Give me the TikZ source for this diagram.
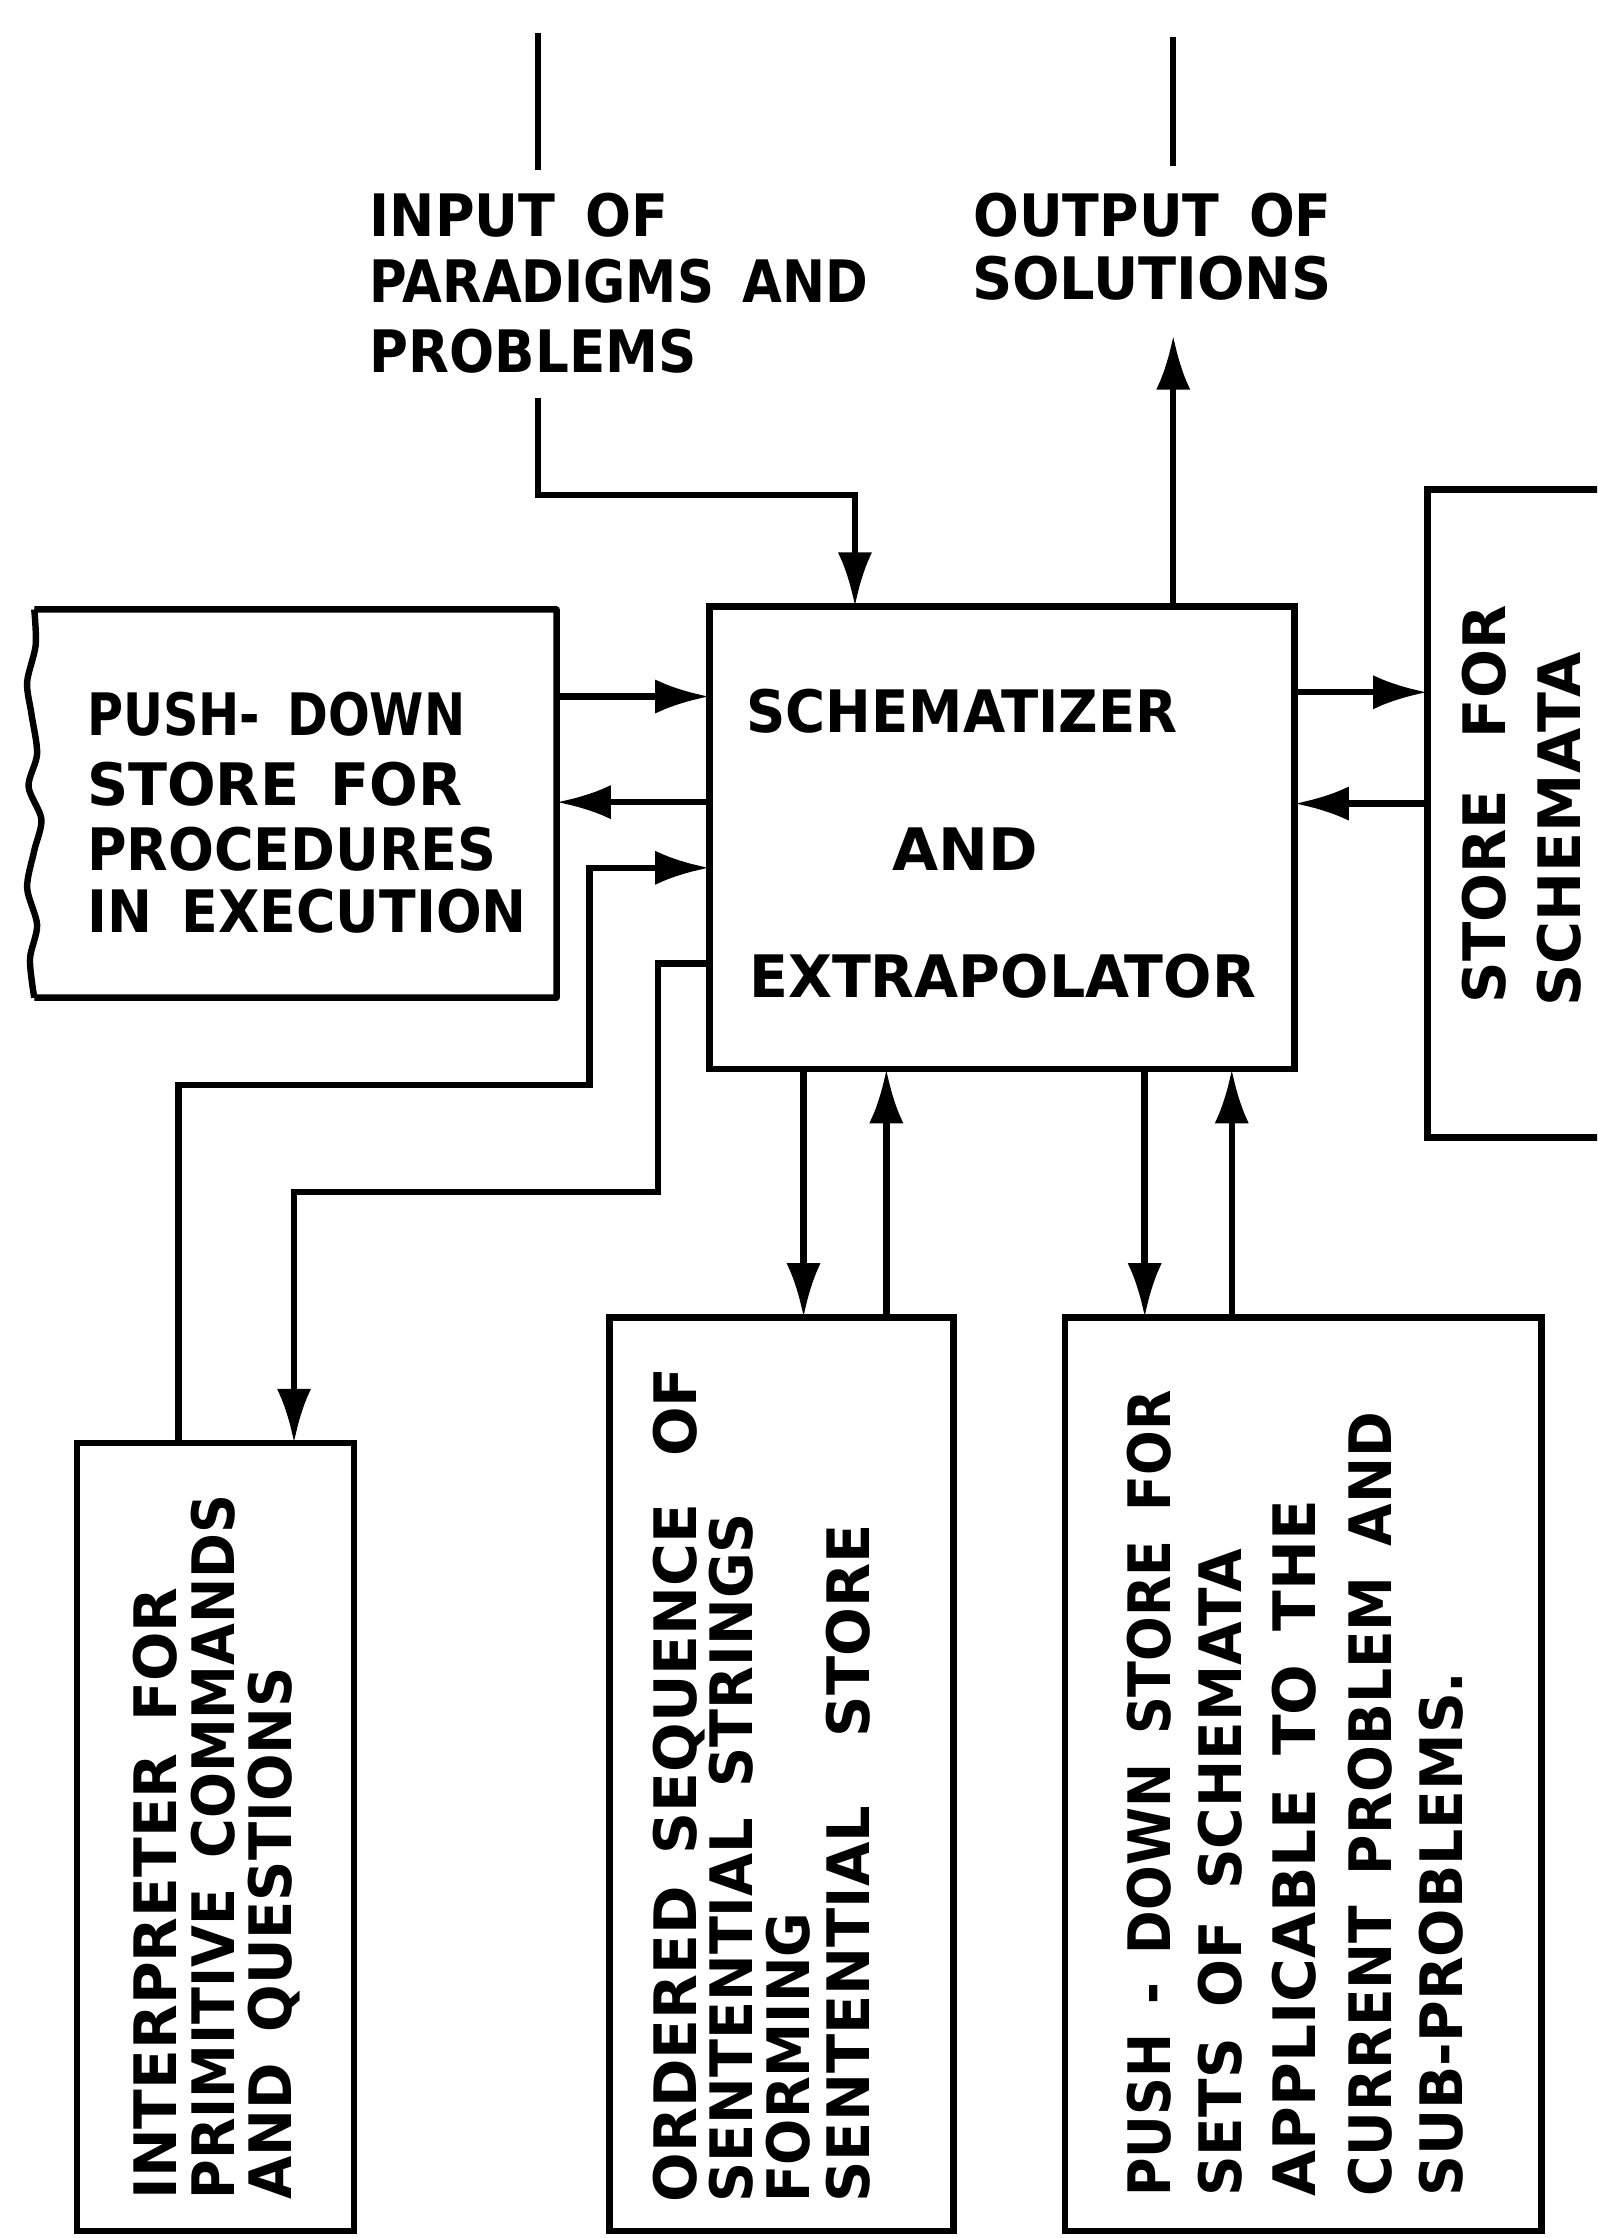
\documentclass[tikz,border=0pt]{standalone}
\usepackage{fontspec}
\setmainfont{DejaVu Sans}
\usetikzlibrary{arrows.meta}
\newlength\fwlen
\newcommand\fw[2]{\spaceskip=0.55em\relax\settowidth\fwlen{#2}\pgfmathsetmacro\fwf{#1/\fwlen}\scalebox{\fwf}[1]{#2}}
\begin{document}
\begin{tikzpicture}[x=1pt,y=-1pt,
  every node/.style={inner sep=0pt, outer sep=0pt},
  lbl/.style={font=\fontsize{41}{41}\selectfont\bfseries, anchor=base west},
  vlbl/.style={lbl, rotate=90},
  box/.style={draw, line width=4.5pt, anchor=north west},
  wire/.style={line width=4.5pt},
  arr/.style={wire, -{Latex[length=38pt,width=24pt]}},
]
\clip (0,0) rectangle (1119,1568);
\fill[white] (0,0) rectangle (1119,1568);

% boxes
\node[box, minimum width=410pt, minimum height=324pt] (main) at (497,425) {};
\node[anchor=north west, minimum width=366pt, minimum height=272pt] (pd) at (24,427) {};
\draw[line width=4.5pt, line join=round]
  (pd.north west) -- (pd.north east) -- (pd.south east) -- (pd.south west)
  plot[smooth] coordinates {(24,699) (21,672) (26,648) (19,622) (24,596) (29,574) (20,551) (26,528) (22,500) (19,478) (25,452) (24,427)};
\node[box, minimum width=140pt, minimum height=454pt] (ss) at (1000,343) {};
\node[box, minimum width=194pt, minimum height=552pt] (interp) at (54,1011) {};
\node[box, minimum width=241pt, minimum height=640pt] (ord) at (427,923) {};
\node[box, minimum width=334pt, minimum height=640pt] (sets) at (746,923) {};

% top labels
\node[lbl] (tin1) at (259,166) {\fw{209}{INPUT OF}};
\node[lbl] (tin2) at (259,212) {\fw{349}{PARADIGMS AND}};
\node[lbl] (tin3) at (259,261) {\fw{229}{PROBLEMS}};
\node[lbl] (tout1) at (682,166) {\fw{251}{OUTPUT OF}};
\node[lbl] (tout2) at (681,210) {\fw{252}{SOLUTIONS}};

% left box text
\node[lbl] (pd1) at (61,515) {\fw{265}{PUSH- DOWN}};
\node[lbl] (pd2) at (61,564) {\fw{263}{STORE FOR}};
\node[lbl] (pd3) at (61,610) {\fw{287}{PROCEDURES}};
\node[lbl] (pd4) at (61,653) {\fw{308}{IN EXECUTION}};

% main box text
\node[lbl] (m1) at (523,513) {\fw{302}{SCHEMATIZER}};
\node[lbl] (m2) at (625,610) {\fw{102}{AND}};
\node[lbl] (m3) at (525,699) {\fw{355}{EXTRAPOLATOR}};

% store for schemata text
\node[vlbl] (s1) at (1055,703) {\fw{279}{STORE\hspace{0.9em}FOR}};
\node[vlbl] (s2) at (1107,705) {\fw{248}{SCHEMATA}};

% interpreter text
\node[vlbl] (i1) at (124,1541) {\fw{429}{INTERPRETER FOR}};
\node[vlbl] (i2) at (164,1541) {\fw{494}{PRIMITIVE COMMANDS}};
\node[vlbl] (i3) at (204,1541) {\fw{373}{AND QUESTIONS}};

% ordered sequence text
\node[vlbl] (o1) at (488,1543) {\fw{585}{ORDERED SEQUENCE\hspace{0.8em}OF}};
\node[vlbl] (o2) at (527,1543) {\fw{483}{SENTENTIAL STRINGS}};
\node[vlbl] (o3) at (567,1543) {\fw{203}{FORMING}};
\node[vlbl] (o4) at (609,1543) {\fw{475}{SENTENTIAL\hspace{1.2em}STORE}};

% push-down sets text
\node[vlbl] (p1) at (820,1539) {\fw{565}{PUSH - DOWN STORE FOR}};
\node[vlbl] (p2) at (870,1539) {\fw{454}{SETS OF SCHEMATA}};
\node[vlbl] (p3) at (922,1539) {\fw{488}{APPLICABLE TO THE}};
\node[vlbl] (p4) at (975,1539) {\fw{550}{CURRENT PROBLEM AND}};
\node[vlbl] (p5) at (1025,1539) {\fw{368}{SUB-PROBLEMS.}};

% input / output
\coordinate (inTop) at (377,23);
\coordinate (inMid) at (377,119);
\coordinate (inLow) at (377,279);
\coordinate (inBend) at (599,347);
\draw[wire] (inTop) -- (inMid);
\draw[arr] (inLow) |- (inBend) -- (inBend |- main.north);
\coordinate (outTop) at (822,26);
\coordinate (outMid) at (822,116);
\coordinate (outTip) at (822,235);
\draw[wire] (outTop) -- (outMid);
\draw[arr] (outTip |- main.north) -- (outTip);

% left connections
\draw[arr] (pd.east |- 0,488) -- (main.west |- 0,488);
\draw[arr] (main.west |- 0,562) -- (pd.east |- 0,562);
\coordinate (l3a) at (413,760);
\draw[arr] (interp.north -| 125,0) |- (l3a) |- (main.west |- 0,608);
\coordinate (l4a) at (461,835);
\draw[arr] (main.west |- 0,675) -| (l4a) -| (interp.north -| 206,0);

% bottom connections
\draw[arr] (main.south -| 563,0) -- (ord.north -| 563,0);
\draw[arr] (ord.north -| 621,0) -- (main.south -| 621,0);
\draw[arr] (main.south -| 802,0) -- (sets.north -| 802,0);
\draw[arr] (sets.north -| 863,0) -- (main.south -| 863,0);

% right connections
\draw[arr] (main.east |- 0,485) -- (ss.west |- 0,485);
\draw[arr] (ss.west |- 0,563) -- (main.east |- 0,563);
\end{tikzpicture}
\end{document}
